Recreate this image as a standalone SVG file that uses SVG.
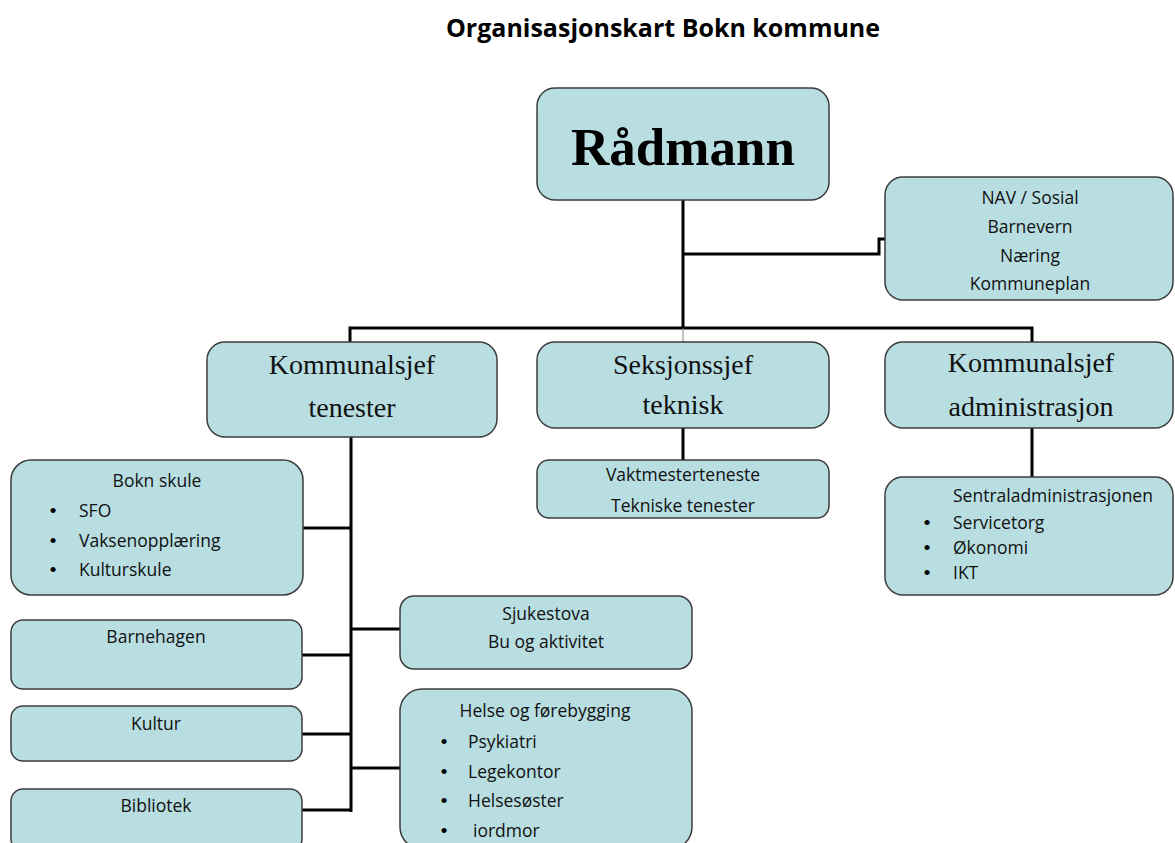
<svg xmlns="http://www.w3.org/2000/svg" width="1175" height="843" viewBox="0 0 1175 843">
<style>
.box{fill:#b8dee2;stroke:#3c3c3c;stroke-width:1.5}
.c{fill:none;stroke:#000;stroke-width:3}
.thin{fill:none;stroke:#888;stroke-width:1}
.s{font-family:"Open Sans","Liberation Sans",sans-serif;font-size:17.5px;fill:#111}
.sm{text-anchor:middle}
.b{font-family:"Liberation Sans",sans-serif;font-size:19px;fill:#000;text-anchor:middle}
.serif{font-family:"Liberation Serif","DejaVu Serif",serif;font-size:28px;fill:#111;text-anchor:middle}
.title{font-family:"Open Sans","Liberation Sans",sans-serif;font-size:25px;font-weight:bold;fill:#000;text-anchor:middle}
</style>
<rect width="1175" height="843" fill="#fff"/>
<text class="title" x="663" y="37">Organisasjonskart Bokn kommune</text>

<g id="connectors">
<path class="c" d="M683,200 V328"/>
<path class="c" d="M683,254 H879 V239 H885"/>
<path class="c" d="M350,342 V328 H1032 V342"/>
<path class="thin" d="M683,328 V342"/>
<path class="c" d="M683,428 V460"/>
<path class="c" d="M1032,428 V478"/>
<path class="c" d="M351,437 V812"/>
<path class="c" d="M303,528 H351"/>
<path class="c" d="M351,629 H400"/>
<path class="c" d="M302,655 H351"/>
<path class="c" d="M302,734 H351"/>
<path class="c" d="M302,810 H351"/>
<path class="c" d="M351,768 H400"/>
</g>

<g id="radmann">
<rect class="box" x="537" y="88" width="292" height="112" rx="18"/>
<text x="683" y="165" font-family="Liberation Serif,DejaVu Serif,serif" font-size="53" font-weight="bold" text-anchor="middle" fill="#000">Rådmann</text>
</g>

<g id="nav">
<rect class="box" x="885" y="177" width="288" height="123" rx="18"/>
<text class="s sm" x="1030" y="204">NAV / Sosial</text>
<text class="s sm" x="1030" y="233">Barnevern</text>
<text class="s sm" x="1030" y="262">Næring</text>
<text class="s sm" x="1030" y="290">Kommuneplan</text>
</g>

<g id="ks-tenester">
<rect class="box" x="207" y="342" width="290" height="95" rx="18"/>
<text class="serif" x="352" y="374">Kommunalsjef</text>
<text class="serif" x="352" y="417">tenester</text>
</g>

<g id="seksjonssjef">
<rect class="box" x="537" y="342" width="292" height="86" rx="18"/>
<text class="serif" x="683" y="374">Seksjonssjef</text>
<text class="serif" x="683" y="414">teknisk</text>
</g>

<g id="ks-admin">
<rect class="box" x="885" y="342" width="288" height="86" rx="18"/>
<text class="serif" x="1031" y="372">Kommunalsjef</text>
<text class="serif" x="1031" y="416">administrasjon</text>
</g>

<g id="vaktmester">
<rect class="box" x="537" y="460" width="292" height="58" rx="12"/>
<text class="s sm" x="683" y="481">Vaktmesterteneste</text>
<text class="s sm" x="683" y="512">Tekniske tenester</text>
</g>

<g id="sentraladm">
<rect class="box" x="885" y="477" width="288" height="118" rx="18"/>
<text class="s" x="953" y="502">Sentraladministrasjonen</text>
<text class="b" x="927" y="529">•</text><text class="s" x="953" y="529">Servicetorg</text>
<text class="b" x="927" y="554">•</text><text class="s" x="953" y="554">Økonomi</text>
<text class="b" x="927" y="579">•</text><text class="s" x="953" y="579">IKT</text>
</g>

<g id="bokn-skule">
<rect class="box" x="11" y="460" width="292" height="135" rx="20"/>
<text class="s sm" x="157" y="487">Bokn skule</text>
<text class="b" x="53" y="517">•</text><text class="s" x="79" y="517">SFO</text>
<text class="b" x="53" y="547">•</text><text class="s" x="79" y="547">Vaksenopplæring</text>
<text class="b" x="53" y="576">•</text><text class="s" x="79" y="576">Kulturskule</text>
</g>

<g id="sjukestova">
<rect class="box" x="400" y="596" width="292" height="73" rx="14"/>
<text class="s sm" x="546" y="620">Sjukestova</text>
<text class="s sm" x="546" y="648">Bu og aktivitet</text>
</g>

<g id="barnehagen">
<rect class="box" x="11" y="620" width="291" height="69" rx="12"/>
<text class="s sm" x="156" y="643">Barnehagen</text>
</g>

<g id="kultur">
<rect class="box" x="11" y="706" width="291" height="55" rx="12"/>
<text class="s sm" x="156" y="730">Kultur</text>
</g>

<g id="bibliotek">
<rect class="box" x="11" y="789" width="291" height="62" rx="12"/>
<text class="s sm" x="156" y="812">Bibliotek</text>
</g>

<g id="helse">
<rect class="box" x="400" y="689" width="292" height="160" rx="22"/>
<text class="s sm" x="545" y="717">Helse og førebygging</text>
<text class="b" x="444" y="748">•</text><text class="s" x="468" y="748">Psykiatri</text>
<text class="b" x="444" y="778">•</text><text class="s" x="468" y="778">Legekontor</text>
<text class="b" x="444" y="807">•</text><text class="s" x="468" y="807">Helsesøster</text>
<text class="b" x="444" y="837">•</text><text class="s" x="473" y="837">iordmor</text>
</g>
</svg>
